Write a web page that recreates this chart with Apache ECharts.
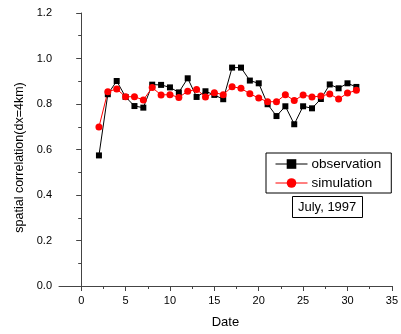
<!DOCTYPE html>
<html>
<head>
<meta charset="utf-8">
<script src="https://cdn.jsdelivr.net/npm/echarts@6/dist/echarts.min.js"></script>
<style>html,body{margin:0;padding:0;background:#fff}#c{width:401px;height:334px}</style>
</head>
<body>
<div id="c"></div>
<script>
var dates = [2,3,4,5,6,7,8,9,10,11,12,13,14,15,16,17,18,19,20,21,22,23,24,25,26,27,28,29,30,31];
var observation = [0.574,0.843,0.901,0.831,0.791,0.784,0.885,0.884,0.873,0.851,0.913,0.831,0.856,0.840,0.821,0.960,0.960,0.903,0.891,0.799,0.747,0.790,0.711,0.790,0.781,0.822,0.886,0.869,0.891,0.875];
var simulation = [0.699,0.854,0.866,0.832,0.832,0.818,0.872,0.840,0.841,0.829,0.856,0.864,0.831,0.850,0.841,0.876,0.869,0.845,0.826,0.810,0.810,0.841,0.815,0.840,0.831,0.835,0.844,0.822,0.848,0.860];
var xMajorTicks = [0,5,10,15,20,25,30,35];
var xMinorTicks = [2.5,7.5,12.5,17.5,22.5,27.5,32.5];

var font = 'Liberation Sans, Arial, sans-serif';
var axisColor = '#444';
function pairs(ys){ return dates.map(function(d,i){ return [d, ys[i]]; }); }

var chart = echarts.init(document.getElementById('c'));
chart.setOption({
  animation: false,
  backgroundColor: '#fff',
  grid: { left: 59, top: 13, right: 4, bottom: 48, containLabel: false },
  title: {
    text: 'July, 1997', left: 292, top: 196,
    borderColor: '#000', borderWidth: 1, padding: [5, 6, 4, 6],
    textStyle: { fontFamily: font, fontSize: 13, fontWeight: 'normal', color: '#000' }
  },
  legend: {
    orient: 'vertical', left: 266, top: 153,
    borderColor: '#000', borderWidth: 1, padding: [4, 10, 3, 9],
    itemWidth: 32, itemHeight: 12, itemGap: 5,
    lineStyle: { width: 1 },
    textStyle: { fontFamily: font, fontSize: 13.5, color: '#000', padding: [0,0,0,-1] },
    data: ['observation', 'simulation']
  },
  xAxis: [{
    type: 'value', min: -2.5, max: 35,
    name: 'Date', nameLocation: 'middle', nameGap: 30,
    nameTextStyle: { fontFamily: font, fontSize: 13, color: '#000' },
    axisLine: { show: true, onZero: false, lineStyle: { color: axisColor, width: 1 } },
    axisTick: { show: true, length: 5, customValues: xMajorTicks, lineStyle: { color: axisColor } },
    axisLabel: { customValues: xMajorTicks, fontFamily: font, fontSize: 11, color: '#000', margin: 9 },
    splitLine: { show: false }
  }, {
    type: 'value', min: -2.5, max: 35, position: 'bottom',
    axisLine: { show: false },
    axisTick: { show: true, length: 3, customValues: xMinorTicks, lineStyle: { color: axisColor } },
    axisLabel: { show: false },
    splitLine: { show: false }
  }],
  yAxis: {
    type: 'value', min: 0, max: 1.2, interval: 0.2,
    name: 'spatial correlation(dx=4km)', nameLocation: 'middle', nameGap: 26,
    nameTextStyle: { fontFamily: font, fontSize: 12.5, color: '#000', padding: [0, 16, 0, 0] },
    axisLine: { show: true, lineStyle: { color: axisColor, width: 1 } },
    axisTick: { show: true, length: 5, lineStyle: { color: axisColor } },
    minorTick: { show: true, splitNumber: 2, length: 3, lineStyle: { color: axisColor } },
    axisLabel: { fontFamily: font, fontSize: 11, color: '#000', margin: 7,
      formatter: function(v){ return v.toFixed(1); } },
    splitLine: { show: false }
  },
  series: [{
    name: 'observation', type: 'line', data: pairs(observation),
    symbol: 'rect', symbolSize: 6, showAllSymbol: true,
    lineStyle: { color: '#000', width: 1 },
    itemStyle: { color: '#000' }
  }, {
    name: 'simulation', type: 'line', data: pairs(simulation),
    symbol: 'circle', symbolSize: 7, showAllSymbol: true,
    lineStyle: { color: '#ff0000', width: 1 },
    itemStyle: { color: '#ff0000' }
  }]
});
</script>
</body>
</html>
